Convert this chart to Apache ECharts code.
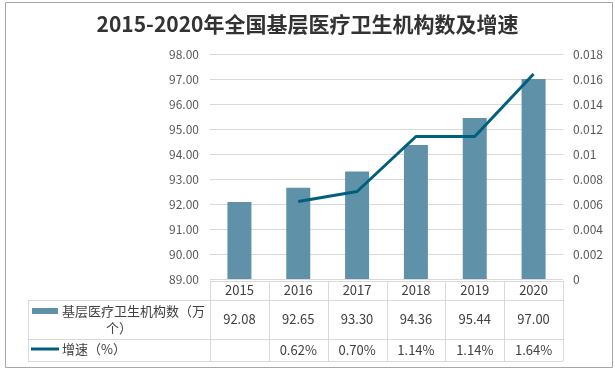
<!DOCTYPE html>
<html>
<head>
<meta charset="utf-8">
<script src="https://cdn.jsdelivr.net/npm/echarts@6/dist/echarts.min.js"></script>
<style>html,body{margin:0;padding:0;background:#fff;}#c{width:615px;height:372px;}</style>
</head>
<body>
<div id="c"></div>
<script>
const years = ['2015', '2016', '2017', '2018', '2019', '2020'];
const counts = [92.08, 92.65, 93.30, 94.36, 95.44, 97.00];
const growth = [null, 0.0062, 0.0070, 0.0114, 0.0114, 0.0164];
const growthLabels = ['', '0.62%', '0.70%', '1.14%', '1.14%', '1.64%'];
const seriesNames = ['基层医疗卫生机构数（万个）', '增速（%）'];
const titleText = '2015-2020年全国基层医疗卫生机构数及增速';

const FONT = 'Noto Sans CJK SC';
const BAR = '#5f92a8';
const LINE = '#005f7f';
const GRIDC = '#d9d9d9';
const TXT = '#404040';

const chart = echarts.init(document.getElementById('c'), null, {renderer: 'canvas'});
chart.setOption({
  animation: false,
  backgroundColor: '#fff',
  textStyle: {fontFamily: FONT},
  title: {
    text: titleText, left: 'center', top: 9,
    textStyle: {fontFamily: FONT, fontSize: 21, fontWeight: 'bold', color: '#333'}
  },
  grid: {left: 210, right: 52, top: 54, bottom: 93},
  xAxis: {
    type: 'category', data: years,
    axisLine: {show: false}, axisTick: {show: false}, axisLabel: {show: false}
  },
  yAxis: [{
    type: 'value', min: 89, max: 98, interval: 1,
    axisLine: {show: false}, axisTick: {show: false},
    axisLabel: {color: '#595959', fontSize: 12, margin: 11, formatter: v => v.toFixed(2)},
    splitLine: {lineStyle: {color: GRIDC}}
  }, {
    type: 'value', min: 0, max: 0.018, interval: 0.002,
    axisLine: {show: false}, axisTick: {show: false},
    axisLabel: {color: '#595959', fontSize: 12, margin: 10, formatter: v => v === 0 ? '0' : String(+v.toFixed(3))},
    splitLine: {show: false}
  }],
  series: [{
    name: seriesNames[0], type: 'bar', data: counts, barWidth: 24,
    itemStyle: {color: BAR}
  }, {
    name: seriesNames[1], type: 'line', yAxisIndex: 1, data: growth,
    symbol: 'none', lineStyle: {color: LINE, width: 3}, itemStyle: {color: LINE}
  }]
});

// Data table built from the arrays, positioned from the category axis
const cx = years.map(y => chart.convertToPixel({xAxisIndex: 0}, y));
const cw = cx[1] - cx[0];
const x0 = cx[0] - cw / 2, x1 = cx[cx.length - 1] + cw / 2;
const tl = 28;
const rowY = [281, 300, 339, 361];
const els = [];
const hl = (xa, xb, y) => els.push({type: 'line', shape: {x1: xa, y1: y + 0.5, x2: xb, y2: y + 0.5}, style: {stroke: GRIDC, lineWidth: 1}, silent: true});
const vl = (x, ya, yb) => els.push({type: 'line', shape: {x1: Math.round(x) + 0.5, y1: ya, x2: Math.round(x) + 0.5, y2: yb}, style: {stroke: GRIDC, lineWidth: 1}, silent: true});
hl(x0, x1, rowY[0]);
hl(tl, x1, rowY[1]); hl(tl, x1, rowY[2]); hl(tl, x1, rowY[3]);
vl(tl, rowY[1], rowY[3]);
for (let i = 0; i <= years.length; i++) vl(x0 + i * cw, rowY[0], rowY[3]);
const txt = (s, x, y, align) => els.push({type: 'text', x: x, y: y, style: {text: s, fill: TXT, font: '13px "' + FONT + '"', align: align || 'center', verticalAlign: 'middle'}, silent: true});
years.forEach((y, i) => {
  txt(y, cx[i], (rowY[0] + rowY[1]) / 2);
  txt(counts[i].toFixed(2), cx[i], (rowY[1] + rowY[2]) / 2);
  txt(growthLabels[i], cx[i], (rowY[2] + rowY[3]) / 2);
});
// row headers with legend icons
els.push({type: 'rect', shape: {x: 32, y: 308, width: 26, height: 6}, style: {fill: BAR}, silent: true});
txt(seriesNames[0].slice(0, 11), 62, 311, 'left');
txt(seriesNames[0].slice(11), (tl + x0) / 2, 328);
els.push({type: 'line', shape: {x1: 31, y1: 349, x2: 59, y2: 349}, style: {stroke: LINE, lineWidth: 3}, silent: true});
txt(seriesNames[1], 62, 349, 'left');
// outer frame
els.push({type: 'rect', shape: {x: 5.5, y: 2.5, width: 607, height: 365}, style: {fill: null, stroke: '#a6a6a6', lineWidth: 1}, silent: true});
chart.setOption({graphic: {elements: els}});
</script>
</body>
</html>
